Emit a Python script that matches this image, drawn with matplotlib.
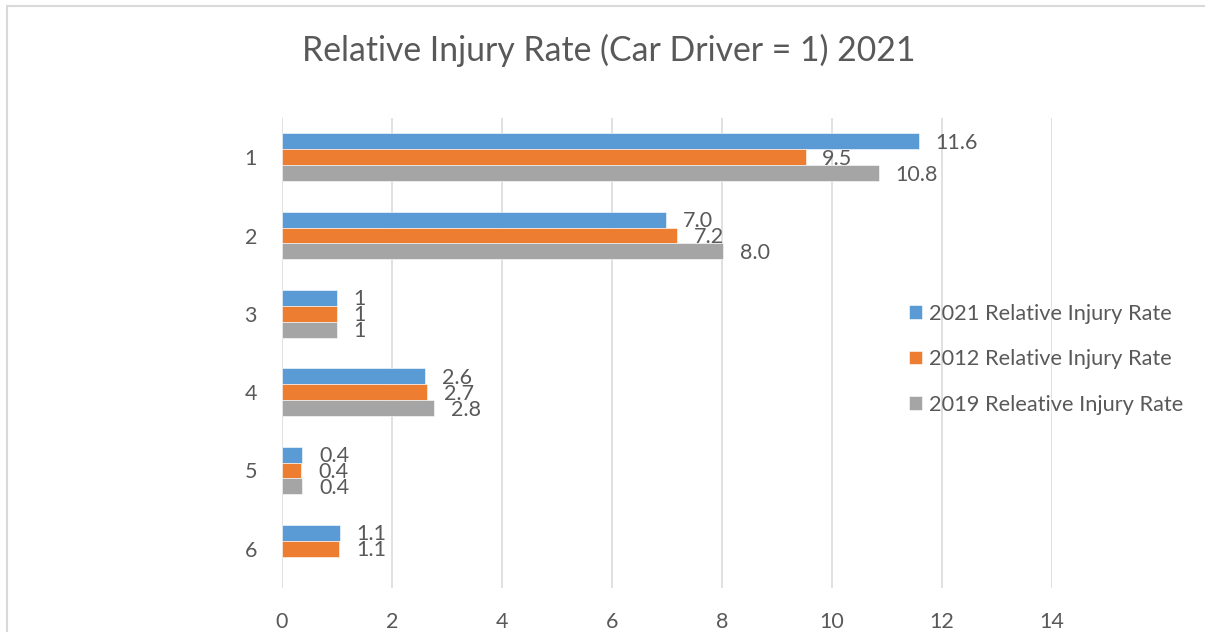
import numpy as np
import matplotlib.pyplot as plt
from matplotlib.lines import Line2D

plt.rcParams["font.family"] = ["Lato", "DejaVu Sans"]

# data
categories = ["1", "2", "3", "4", "5", "6"]
series_names = ["2021 Relative Injury Rate", "2012 Relative Injury Rate", "2019 Releative Injury Rate"]
rate_2021 = [11.58, 6.98, 1.0, 2.6, 0.37, 1.05]
rate_2012 = [9.52, 7.18, 1.0, 2.64, 0.35, 1.04]
rate_2019 = [10.85, 8.02, 1.0, 2.77, 0.37, np.nan]
labels_2021 = ["11.6", "7.0", "1", "2.6", "0.4", "1.1"]
labels_2012 = ["9.5", "7.2", "1", "2.7", "0.4", "1.1"]
labels_2019 = ["10.8", "8.0", "1", "2.8", "0.4", ""]

colors = ["#5B9BD5", "#ED7D31", "#A5A5A5"]
txt = "#595959"

fig = plt.figure(figsize=(12.05, 6.32), dpi=100)
ax = fig.add_axes([282/1205, 1-588/632, (1052-282)/1205, (588-118)/632])

y = np.arange(len(categories))
h = 0.204
all_vals = [rate_2021, rate_2012, rate_2019]
all_labels = [labels_2021, labels_2012, labels_2019]
for i in range(3):
    pos = y + (i - 1) * h
    ax.barh(pos, all_vals[i], height=h, color=colors[i], label=series_names[i],
            edgecolor="white", linewidth=0.4, zorder=3)
    for yy, v, lab in zip(pos, all_vals[i], all_labels[i]):
        if lab:
            ax.annotate(lab, (v, yy), xytext=(12, -1), textcoords="offset points",
                        va="center", ha="left", fontsize=15.5, color=txt, zorder=4)

ax.set_xlim(0, 14)
ax.set_ylim(len(categories) - 0.5, -0.5)
ax.set_xticks(range(0, 15, 2))
ax.set_yticks(y)
ax.set_yticklabels(categories)
ax.tick_params(length=0, labelsize=15.5, labelcolor=txt)
ax.tick_params(axis="x", pad=17)
ax.tick_params(axis="y", pad=18)
ax.grid(axis="x", color="#D9D9D9", linewidth=1.1, zorder=0)
for s in ax.spines.values():
    s.set_visible(False)

fig.text(609/1205, 1-50/632, "Relative Injury Rate (Car Driver = 1) 2021",
         ha="center", va="center", fontsize=24.3, color=txt)

handles, names = ax.get_legend_handles_labels()
fig.legend(handles, names, loc="upper left", bbox_to_anchor=(900/1205, 1-295/632),
           frameon=False, fontsize=15.7, labelcolor=txt, handlelength=0.6, handleheight=0.6,
           handletextpad=0.32, labelspacing=1.17, borderaxespad=0)

# chart frame: top edge and left edge only
fig.add_artist(Line2D([7/1205, 7/1205], [0.0, 1-6/632],
                      transform=fig.transFigure, color="#D9D9D9", linewidth=1.5))
fig.add_artist(Line2D([7/1205, 1.0], [1-6/632, 1-6/632],
                      transform=fig.transFigure, color="#D9D9D9", linewidth=1.5,
                      solid_capstyle="butt"))

fig.savefig("out.png", dpi=100)
